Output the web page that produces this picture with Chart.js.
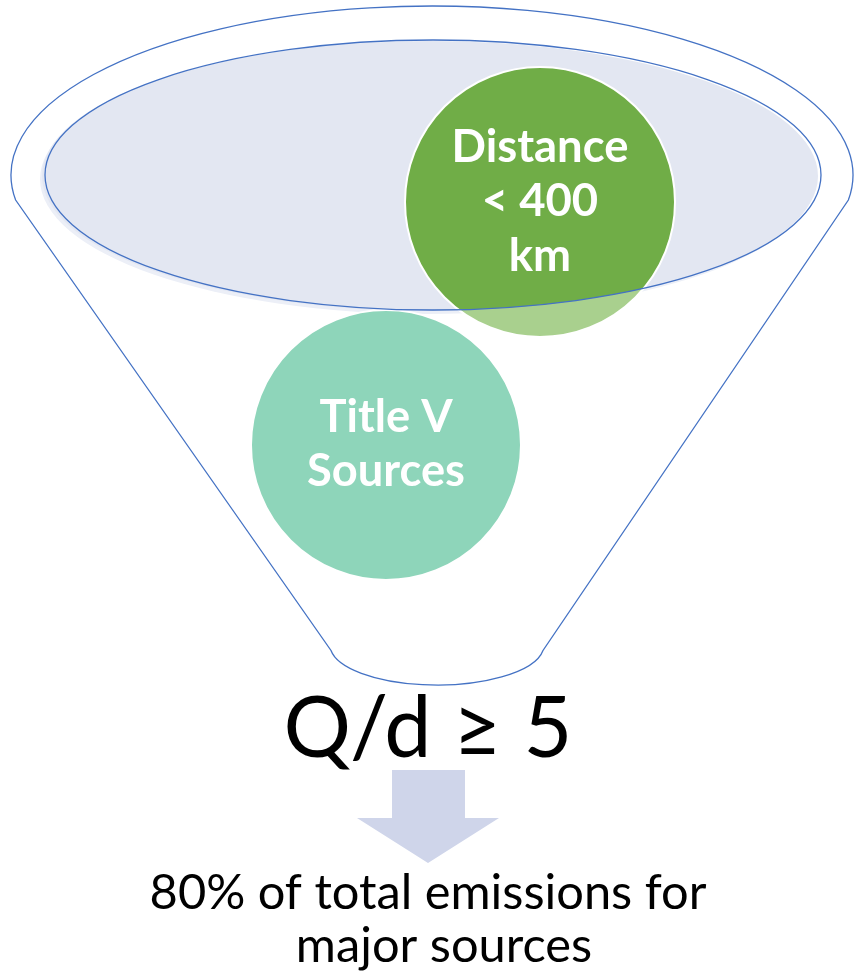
<!DOCTYPE html>
<html>
<head>
<meta charset="utf-8">
<script src="https://cdn.jsdelivr.net/npm/chart.js@4.4.1/dist/chart.umd.min.js"></script>
<style>
  html, body { margin: 0; padding: 0; background: #ffffff; }
  #wrap { width: 854px; height: 976px; }
</style>
</head>
<body>
<div id="wrap"><canvas id="funnel" width="854" height="976"></canvas></div>
<script>
// circles in the funnel
const circleLabels = [["Distance", "< 400", "km"], ["Title V", "Sources"]];
const circleX = [540, 386];
const circleY = [202, 445];
const circleR = [135, 135];
const circleColors = ["#70ad47", "#8ed5ba"];
const circleFade = ["#a9d08e", null]; // colour of the part below the rim

// text under the funnel
const headline = "Q/d \u2265 5";
const footnote = ["80% of total emissions for", "major sources"];

// funnel shape (page units, same as pixels)
const outerRim = { cx: 432, cy: 175, rx: 421, ry: 169 };
const innerRim = { cx: 433, cy: 175, rx: 388, ry: 135 };
const spout = { cx: 437, cy: 645, rx: 107, ry: 40 };
const rimCornerY = 200;
const spoutHalf = 106;

const W = 854, H = 976;
const FONT = "Lato, 'Open Sans', sans-serif";
const LINE = "#4472c4";

function px(chart, x, y) {
    return [chart.scales.x.getPixelForValue(x), chart.scales.y.getPixelForValue(y)];
}

function radii(chart, e) {
    let rx = chart.scales.x.getPixelForValue(e.rx) - chart.scales.x.getPixelForValue(0);
    let ry = chart.scales.y.getPixelForValue(e.ry) - chart.scales.y.getPixelForValue(0);
    return [Math.abs(rx), Math.abs(ry)];
}

function ellipsePath(ctx, chart, e, dx, dy) {
    let c = px(chart, e.cx + (dx || 0), e.cy + (dy || 0));
    let r = radii(chart, e);
    ctx.beginPath();
    ctx.ellipse(c[0], c[1], r[0], r[1], 0, 0, Math.PI * 2);
}

// font size so the widest of the lines gets the given width
function fitSize(ctx, lines, weight, width) {
    ctx.font = weight + " 100px " + FONT;
    let w = Math.max(...lines.map(t => ctx.measureText(t).width));
    return 100 * width / w;
}

const funnelBack = {
    id: "funnelBack",
    beforeDatasetsDraw(chart) {
        let ctx = chart.ctx;
        ctx.save();

        // outer funnel outline
        let c = px(chart, outerRim.cx, outerRim.cy);
        let r = radii(chart, outerRim);
        let a = Math.asin((rimCornerY - outerRim.cy) / outerRim.ry);
        let sc = px(chart, spout.cx, spout.cy);
        let sr = radii(chart, spout);
        let b = Math.acos(spoutHalf / spout.rx);

        ctx.beginPath();
        ctx.ellipse(c[0], c[1], r[0], r[1], 0, Math.PI - a, a, false);
        ctx.lineTo(sc[0] + sr[0] * Math.cos(b), sc[1] + sr[1] * Math.sin(b));
        ctx.ellipse(sc[0], sc[1], sr[0], sr[1], 0, b, Math.PI - b, false);
        ctx.closePath();
        ctx.strokeStyle = LINE;
        ctx.lineWidth = 1.3;
        ctx.stroke();

        // rim fill with its soft shadow
        ellipsePath(ctx, chart, innerRim, -5, 4);
        ctx.fillStyle = "#eceff7";
        ctx.fill();
        ellipsePath(ctx, chart, innerRim, -3, 1);
        ctx.fillStyle = "#e3e7f2";
        ctx.fill();
        ctx.restore();
    }
};

const funnelFront = {
    id: "funnelFront",
    afterDatasetsDraw(chart) {
        let ctx = chart.ctx;
        let meta = chart.getDatasetMeta(0);
        ctx.save();

        // part of a circle that hangs below the rim looks paler
        meta.data.forEach((pt, i) => {
            if (!circleFade[i]) return;
            ctx.save();
            ctx.beginPath();
            ctx.rect(0, 0, chart.width, chart.height);
            let c = px(chart, innerRim.cx, innerRim.cy);
            let r = radii(chart, innerRim);
            ctx.ellipse(c[0], c[1], r[0], r[1], 0, 0, Math.PI * 2);
            ctx.clip("evenodd");
            ctx.beginPath();
            ctx.arc(pt.x, pt.y, pt.options.radius, 0, Math.PI * 2);
            ctx.fillStyle = circleFade[i];
            ctx.fill();
            ctx.strokeStyle = "#ffffff";
            ctx.lineWidth = 2;
            ctx.stroke();
            ctx.restore();
        });

        // rim outline on top
        ellipsePath(ctx, chart, innerRim);
        ctx.strokeStyle = LINE;
        ctx.lineWidth = 1.3;
        ctx.stroke();

        // circle labels
        ctx.fillStyle = "#ffffff";
        ctx.textAlign = "center";
        ctx.textBaseline = "alphabetic";
        let widest = [177, 158];
        meta.data.forEach((pt, i) => {
            let lines = circleLabels[i];
            let size = fitSize(ctx, lines, "bold", widest[i]);
            ctx.font = "bold " + size + "px " + FONT;
            let lh = size * 1.2;
            lines.forEach((t, k) => {
                let y = pt.y + (k - (lines.length - 1) / 2) * lh + size * 0.36 - 2;
                ctx.fillText(t, pt.x, y);
            });
        });

        // Q/d >= 5
        ctx.fillStyle = "#000000";
        let hs = fitSize(ctx, [headline], "normal", 289);
        ctx.font = "normal " + hs + "px " + FONT;
        let hp = px(chart, 428, 757);
        ctx.fillText(headline, hp[0], hp[1]);

        // arrow
        let pts = [[392, 770], [465, 770], [465, 818], [499, 818], [428, 863], [357, 818], [392, 818]];
        ctx.beginPath();
        pts.forEach((p, k) => {
            let q = px(chart, p[0], p[1]);
            if (k === 0) ctx.moveTo(q[0], q[1]); else ctx.lineTo(q[0], q[1]);
        });
        ctx.closePath();
        ctx.fillStyle = "#cfd5ea";
        ctx.fill();

        // footnote
        ctx.fillStyle = "#000000";
        let fs = fitSize(ctx, [footnote[0]], "normal", 557);
        ctx.font = "normal " + fs + "px " + FONT;
        let centers = [428, 444];
        let bases = [909, 962];
        footnote.forEach((t, k) => {
            let q = px(chart, centers[k], bases[k]);
            ctx.fillText(t, q[0], q[1]);
        });
        ctx.restore();
    }
};

new Chart(document.getElementById("funnel"), {
    type: "bubble",
    data: {
        datasets: [{
            data: circleX.map((x, i) => ({ x: x, y: circleY[i], r: circleR[i] })),
            backgroundColor: circleColors,
            borderColor: "#ffffff",
            borderWidth: 2,
            clip: false
        }]
    },
    options: {
        responsive: false,
        devicePixelRatio: 1,
        animation: false,
        events: [],
        layout: { padding: 0, autoPadding: false },
        plugins: { legend: { display: false }, tooltip: { enabled: false } },
        scales: {
            x: { type: "linear", min: 0, max: W, display: false, offset: false },
            y: { type: "linear", min: 0, max: H, reverse: true, display: false, offset: false }
        }
    },
    plugins: [funnelBack, funnelFront]
});
</script>
</body>
</html>
